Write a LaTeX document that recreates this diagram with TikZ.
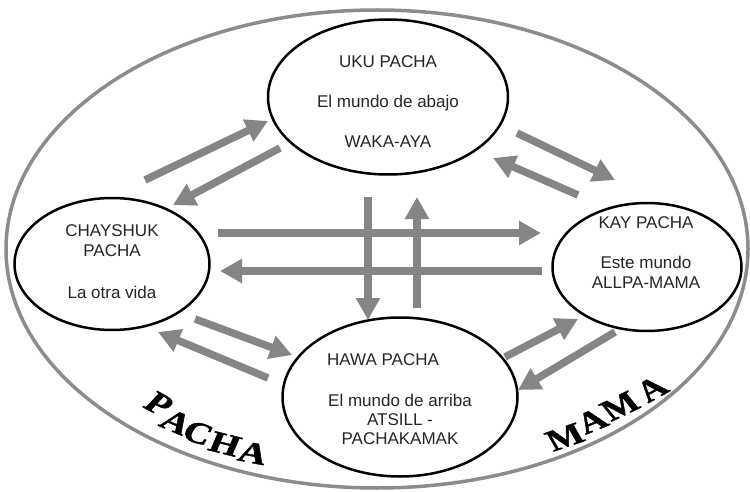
\documentclass[tikz,border=0pt]{standalone}
\usepackage{fontspec}
\setmainfont{Liberation Sans}
\newfontfamily\pachafont[BoldFeatures={FakeBold=1.3}]{Liberation Serif}
\usetikzlibrary{shapes.geometric,arrows.meta}
\definecolor{arrowgray}{RGB}{133,133,133}
\definecolor{rimgray}{RGB}{140,140,140}
\tikzset{
  world/.style={draw=black, line width=2.5pt, ellipse, inner sep=0pt, outer sep=0pt, fill=none},
  lbl/.style={font=\fontsize{17}{20}\selectfont, align=center, inner sep=0pt, text=black!85},
  flow/.style={draw=arrowgray, line width=7.5pt, -{Triangle[width=23pt,length=22pt]}},
  rim/.style={draw=rimgray, line width=3.5pt},
  big/.style={font=\pachafont\bfseries\fontsize{30}{30}\selectfont, inner sep=0pt, xscale=1.3}
}
\begin{document}
\begin{tikzpicture}[x=1pt,y=-1pt]
\useasboundingbox (0,0) rectangle (750,492);
\fill[white] (0,0) rectangle (750,492);
% outer ellipse
\draw[rim] (377,249) ellipse [x radius=371pt, y radius=239pt];
% worlds
\node[world, minimum width=240pt, minimum height=155pt] (uku) at (388,97) {};
\node[world, minimum width=195pt, minimum height=132pt] (chay) at (112,264) {};
\node[world, minimum width=189pt, minimum height=128pt] (kay) at (647,267) {};
\node[world, minimum width=235pt, minimum height=159pt] (hawa) at (400,397) {};
% texts
\node[lbl] (ukut) at (388,101.5) {UKU PACHA\\[20pt]El mundo de abajo\\[20pt]WAKA-AYA};
\node[lbl] (chayt) at (112,262) {CHAYSHUK\\PACHA\\[22pt]La otra vida};
\node[lbl] (kayt) at (646,253) {KAY PACHA\\[20pt]Este mundo\\ALLPA-MAMA};
\node[lbl] (hawat) at (383,360) {HAWA PACHA};
\node[lbl, font=\fontsize{17}{19}\selectfont] (hawab) at (400,419) {El mundo de arriba\\ATSILL -\\PACHAKAMAK};
% arrow end points
\coordinate (a1s) at (145,180); \coordinate (a1e) at (268,121);
\coordinate (a2s) at (280,148); \coordinate (a2e) at (173,205);
\coordinate (a3s) at (517,133); \coordinate (a3e) at (615,180);
\coordinate (a4s) at (578,195); \coordinate (a4e) at (493,158);
\coordinate (a5s) at (218,233); \coordinate (a5e) at (541,233);
\coordinate (a6s) at (542,271); \coordinate (a6e) at (220,271);
\coordinate (a7s) at (368,197); \coordinate (a7e) at (368,320);
\coordinate (a8s) at (417,308); \coordinate (a8e) at (417,197);
\coordinate (a9s) at (195,319); \coordinate (a9e) at (292,355);
\coordinate (a10s) at (268,378); \coordinate (a10e) at (158,332);
\coordinate (a11s) at (505,357); \coordinate (a11e) at (578,319);
\coordinate (a12s) at (615,332); \coordinate (a12e) at (518,390);
\foreach \i in {1,...,12} {\draw[flow] (a\i s) -- (a\i e);}
% PACHA
\node[big, rotate=-36] (p1) at (159,404) {P};
\node[big, rotate=-29] (p2) at (176,422) {A};
\node[big, rotate=-23] (p3) at (198,433) {C};
\node[big, rotate=-18] (p4) at (225,444) {H};
\node[big, rotate=-14] (p5) at (253,453) {A};
% MAMA
\node[big, rotate=24] (m1) at (565,437) {M};
\node[big, rotate=28] (m2) at (592,421) {A};
\node[big, rotate=32] (m3) at (620,406) {M};
\node[big, rotate=36] (m4) at (652,389) {A};
\end{tikzpicture}
\end{document}
